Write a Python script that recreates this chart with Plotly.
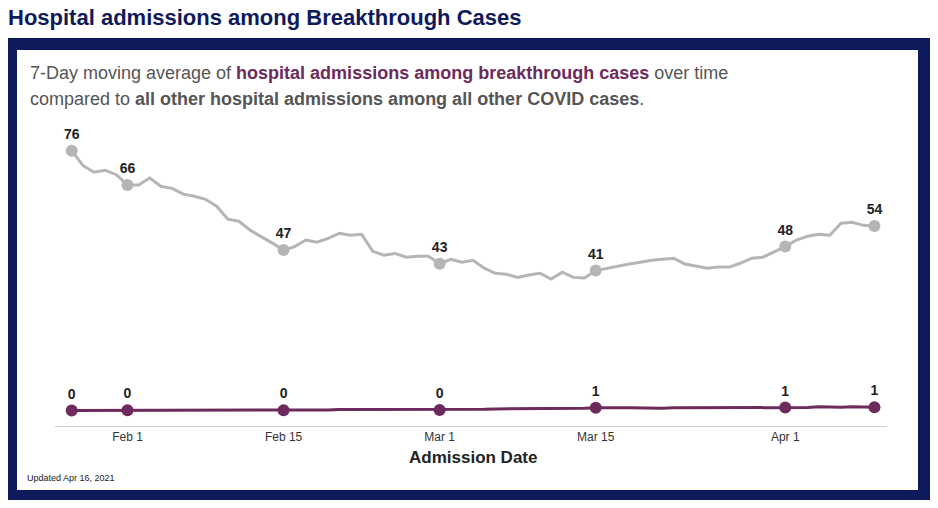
import plotly.graph_objects as go
import pandas as pd

dates = pd.date_range("2021-01-27", "2021-04-09", freq="D")
other = [76,71.7,69.7,70.3,69,66,66,68,65.6,65,63.3,62.7,61.8,59.8,56,55.4,52.8,51,49,47,
         48,49.9,49.3,50.4,51.9,51.3,51.6,46.6,45.5,46,44.9,45.2,45.2,43,44.3,43.4,44,41.7,40.2,39.9,
         39,39.7,40.2,38.5,40.5,39,38.8,41,41.7,42.3,42.9,43.4,44,44.3,44.6,42.9,42.3,41.7,42,42,
         43.2,44.6,44.9,46.4,48,49.9,51,51.6,51.3,54.8,55.1,54.2,54]
breakthrough = [0.1,0.1,0.1,0.1,0.1,0.2,0.2,0.2,0.2,0.2,0.2,0.2,0.2,0.2,0.2,0.2,0.2,0.2,0.2,0.2,
                0.2,0.3,0.3,0.3,0.4,0.4,0.3,0.3,0.3,0.3,0.3,0.3,0.3,0.3,0.3,0.4,0.4,0.5,0.6,0.6,
                0.6,0.7,0.7,0.7,0.8,0.8,0.8,0.9,1.0,0.9,0.9,0.8,0.8,0.8,0.9,0.9,0.9,0.9,0.9,0.9,
                1.0,1.0,1.0,1.0,1.0,1.0,1.0,1.2,1.1,1.1,1.2,1.1,1.1]
label_dates = ["2021-01-27","2021-02-01","2021-02-15","2021-03-01","2021-03-15","2021-04-01","2021-04-09"]
tick_vals = ["2021-02-01","2021-02-15","2021-03-01","2021-03-15","2021-04-01"]
tick_text = ["Feb 1","Feb 15","Mar 1","Mar 15","Apr 1"]

s_o = pd.Series(other, index=dates)
s_b = pd.Series(breakthrough, index=dates)
ld = pd.to_datetime(label_dates)

GREY = "#b5b5b5"; PURPLE = "#6d2a5c"; NAVY = "#0f1a5c"
fig = go.Figure()
fig.add_trace(go.Scatter(x=dates, y=other, mode="lines", line=dict(color=GREY, width=3)))
fig.add_trace(go.Scatter(x=dates, y=breakthrough, mode="lines", line=dict(color=PURPLE, width=3)))
fig.add_trace(go.Scatter(x=ld, y=s_o[ld].values, mode="markers+text", cliponaxis=False,
    marker=dict(color=GREY, size=12), text=[f"<b>{round(v)}</b>" for v in s_o[ld].values],
    textposition="top center", textfont=dict(family="Arial", size=14, color="#222")))
fig.add_trace(go.Scatter(x=ld, y=s_b[ld].values, mode="markers+text", cliponaxis=False,
    marker=dict(color=PURPLE, size=12), text=[f"<b>{round(v)}</b>" for v in s_b[ld].values],
    textposition="top center", textfont=dict(family="Arial", size=14, color="#222")))

OFF = 8
L, R, T, B = 55 - OFF, 887 - OFF, 137 - OFF, 426 - OFF
def px(x): return (x - OFF - L) / (R - L)
def py(y): return (B - (y - OFF)) / (B - T)
shapes = [
    dict(type="rect", xref="paper", yref="paper", x0=px(5), x1=px(932), y0=py(500), y1=py(38),
         fillcolor=NAVY, line=dict(width=0), layer="below"),
    dict(type="rect", xref="paper", yref="paper", x0=px(17), x1=px(918), y0=py(490), y1=py(50),
         fillcolor="white", line=dict(width=0), layer="below"),
]
ann = [
    dict(text="<b>Hospital admissions among Breakthrough Cases</b>", x=px(6), y=py(17),
         font=dict(size=22, color=NAVY)),
    dict(text="7-Day moving average of <b><span style='color:#6d2a5c'>hospital admissions among breakthrough cases</span></b> over time",
         x=px(28), y=py(73), font=dict(size=18, color="#555")),
    dict(text="compared to <b>all other hospital admissions among all other COVID cases</b>.",
         x=px(28), y=py(99), font=dict(size=18, color="#555")),
    dict(text="Updated Apr 16, 2021", x=px(25), y=py(478), font=dict(size=9, color="#222")),
    dict(text="<b>Admission Date</b>", x=px(473), y=py(457), xanchor="center",
         font=dict(size=17, color="#222")),
]
for a in ann:
    a.update(xref="paper", yref="paper", showarrow=False, yanchor="middle")
    a.setdefault("xanchor", "left")

fig.update_layout(
    width=938, height=508, margin=dict(l=L, r=938 - R, t=T, b=508 - B),
    paper_bgcolor="white", plot_bgcolor="rgba(0,0,0,0)", showlegend=False,
    font=dict(family="Arial"), shapes=shapes, annotations=ann,
    xaxis=dict(range=[pd.Timestamp("2021-01-25 12:00"), pd.Timestamp("2021-04-10 03:00")],
               tickvals=pd.to_datetime(tick_vals), ticktext=tick_text, showgrid=False,
               showline=True, linecolor="#ccc", ticks="", tickfont=dict(size=12, color="#333")),
    yaxis=dict(range=[-4.4, 80], visible=False, showgrid=False),
)
fig.write_html("out.html")
